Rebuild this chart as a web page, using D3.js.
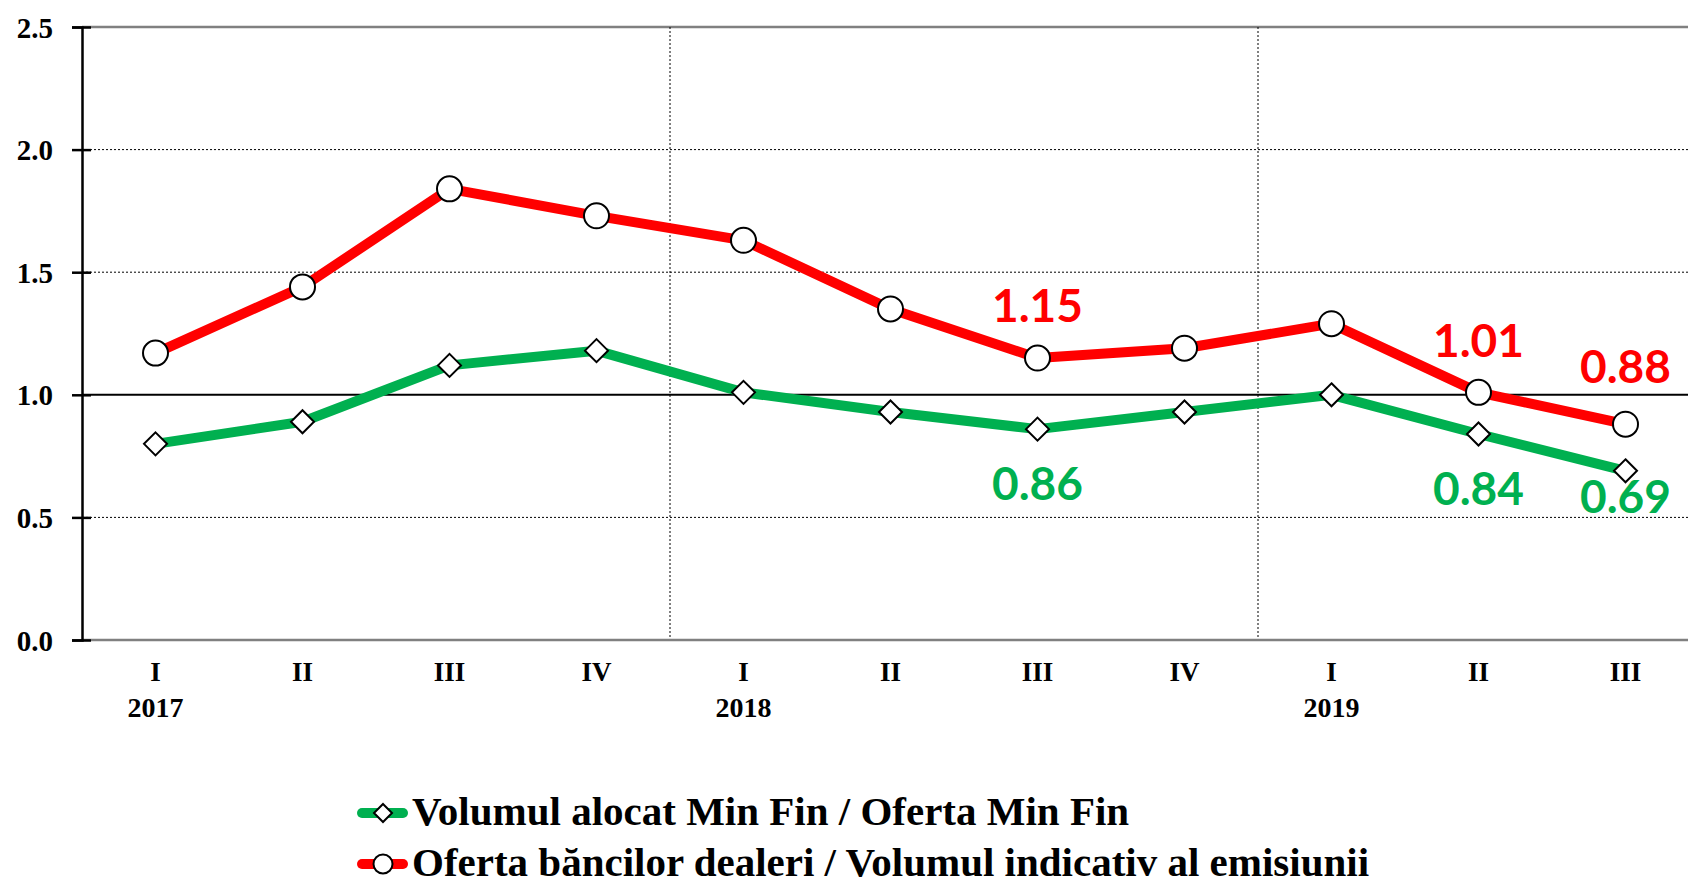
<!DOCTYPE html>
<html>
<head>
<meta charset="utf-8">
<script src="https://cdn.jsdelivr.net/npm/d3@7"></script>
<style>
  html, body { margin: 0; padding: 0; background: #fff; overflow: hidden; }
  svg { display: block; }
  .axis-label { font-family: 'Liberation Serif', serif; font-weight: bold; fill: #000; }
  .value-label { font-family: Lato, 'Open Sans', sans-serif; font-weight: bold; }
</style>
</head>
<body>
<svg id="chart" width="1688" height="884"></svg>
<script>
'use strict'

// data
const quarters = ['I', 'II', 'III', 'IV', 'I', 'II', 'III', 'IV', 'I', 'II', 'III']
const years = ['2017', '', '', '', '2018', '', '', '', '2019', '', '']
const volumAlocat = [0.80, 0.89, 1.12, 1.18, 1.01, 0.93, 0.86, 0.93, 1.00, 0.84, 0.69]
const ofertaBanci = [1.17, 1.44, 1.84, 1.73, 1.63, 1.35, 1.15, 1.19, 1.29, 1.01, 0.88]
const yTicks = [0, 0.5, 1.0, 1.5, 2.0, 2.5]
const seriesNames = [
  'Volumul alocat Min Fin / Oferta Min Fin',
  'Oferta băncilor dealeri / Volumul indicativ al emisiunii'
]

const GREEN = '#00b050'
const RED = '#ff0000'

const svg = d3.select('#chart')
const margin = {left: 82, top: 27, bottom: 640}
const band = 147

const x = d3.scaleBand()
  .domain(d3.range(quarters.length))
  .range([margin.left, margin.left + band * quarters.length])
  .padding(0)
const cx = i => x(i) + x.bandwidth() / 2

const y = d3.scaleLinear()
  .domain([0, 2.5])
  .range([margin.bottom, margin.top])

// gridlines
const grid = svg.append('g').attr('class', 'grid')
grid.selectAll('line.h')
  .data(yTicks.filter(t => t > 0))
  .enter().append('line')
  .attr('x1', margin.left)
  .attr('x2', 1688)
  .attr('y1', d => y(d))
  .attr('y2', d => y(d))
  .attr('stroke', d => d === 2.5 ? '#808080' : '#000')
  .attr('stroke-width', d => d === 1 ? 2 : (d === 2.5 ? 2.5 : 1))
  .attr('stroke-dasharray', d => (d === 1 || d === 2.5) ? null : '2,2')

// year separators
grid.selectAll('line.v')
  .data([4, 8])
  .enter().append('line')
  .attr('x1', d => x(d))
  .attr('x2', d => x(d))
  .attr('y1', y(2.5))
  .attr('y2', y(0))
  .attr('stroke', '#000')
  .attr('stroke-width', 1)
  .attr('stroke-dasharray', '2,2')

// x axis line
svg.append('line')
  .attr('x1', margin.left)
  .attr('x2', 1688)
  .attr('y1', y(0))
  .attr('y2', y(0))
  .attr('stroke', '#808080')
  .attr('stroke-width', 2.5)

// y axis
const yAxis = svg.append('g')
  .attr('transform', `translate(${margin.left},0)`)
  .call(d3.axisLeft(y).tickValues(yTicks).tickFormat(d3.format('.1f')).tickSize(10).tickPadding(19))
yAxis.select('.domain').attr('stroke', '#000').attr('stroke-width', 2.5)
yAxis.selectAll('.tick line')
  .attr('x1', -10).attr('x2', 9)
  .attr('stroke', '#000').attr('stroke-width', 2.5)
yAxis.selectAll('.tick text')
  .attr('class', 'axis-label')
  .attr('font-size', 29)
  .attr('dy', '0.35em')

// x labels
const xLab = svg.append('g')
xLab.selectAll('text.q')
  .data(quarters)
  .enter().append('text')
  .attr('class', 'axis-label')
  .attr('x', (d, i) => cx(i))
  .attr('y', 681)
  .attr('text-anchor', 'middle')
  .attr('font-size', 27)
  .text(d => d)
xLab.selectAll('text.yr')
  .data(years)
  .enter().append('text')
  .attr('class', 'axis-label')
  .attr('x', (d, i) => cx(i))
  .attr('y', 717)
  .attr('text-anchor', 'middle')
  .attr('font-size', 28)
  .text(d => d)

// series
const line = d3.line().x((d, i) => cx(i)).y(d => y(d))
const diamond = r => `M0,${-r}L${r},0L0,${r}L${-r},0Z`

const drawSeries = (values, color, marker) => {
  const g = svg.append('g')
  g.append('path')
    .datum(values)
    .attr('d', line)
    .attr('fill', 'none')
    .attr('stroke', color)
    .attr('stroke-width', 10)
    .attr('stroke-linejoin', 'round')
  const m = g.selectAll('.marker')
    .data(values)
    .enter()
  if (marker === 'circle') {
    m.append('circle')
      .attr('cx', (d, i) => cx(i))
      .attr('cy', d => y(d))
      .attr('r', 12.5)
      .attr('fill', '#fff')
      .attr('stroke', '#000')
      .attr('stroke-width', 2)
  } else {
    m.append('path')
      .attr('d', diamond(11.5))
      .attr('transform', (d, i) => `translate(${cx(i)},${y(d)})`)
      .attr('fill', '#fff')
      .attr('stroke', '#000')
      .attr('stroke-width', 2)
  }
}
drawSeries(volumAlocat, GREEN, 'diamond')
drawSeries(ofertaBanci, RED, 'circle')

// value labels (index, offset from point)
const labelSpec = [
  {values: ofertaBanci, color: RED, items: [[6, -36], [9, -35], [10, -41]]},
  {values: volumAlocat, color: GREEN, items: [[6, 71], [9, 71], [10, 42]]}
]
labelSpec.forEach(({values, color, items}) => {
  svg.append('g').selectAll('text')
    .data(items)
    .enter().append('text')
    .attr('class', 'value-label')
    .attr('x', ([i]) => cx(i))
    .attr('y', ([i, dy]) => y(values[i]) + dy)
    .attr('text-anchor', 'middle')
    .attr('font-size', 46)
    .attr('fill', color)
    .text(([i]) => values[i].toFixed(2))
})

// legend
const legend = svg.append('g').attr('transform', 'translate(362,813)')
const legendItems = [
  {name: seriesNames[0], color: GREEN, marker: 'diamond'},
  {name: seriesNames[1], color: RED, marker: 'circle'}
]
const li = legend.selectAll('g.item')
  .data(legendItems)
  .enter().append('g')
  .attr('transform', (d, i) => `translate(0,${i * 51})`)
li.append('line')
  .attr('x1', 0).attr('x2', 41)
  .attr('stroke', d => d.color)
  .attr('stroke-width', 10)
  .attr('stroke-linecap', 'round')
li.filter(d => d.marker === 'circle').append('circle')
  .attr('cx', 21).attr('r', 9.5)
  .attr('fill', '#fff').attr('stroke', '#000').attr('stroke-width', 2)
li.filter(d => d.marker === 'diamond').append('path')
  .attr('d', diamond(9))
  .attr('transform', 'translate(21,0)')
  .attr('fill', '#fff').attr('stroke', '#000').attr('stroke-width', 2)
li.append('text')
  .attr('class', 'axis-label')
  .attr('x', 50)
  .attr('y', 12)
  .attr('font-size', 41)
  .text(d => d.name)
</script>
</body>
</html>
